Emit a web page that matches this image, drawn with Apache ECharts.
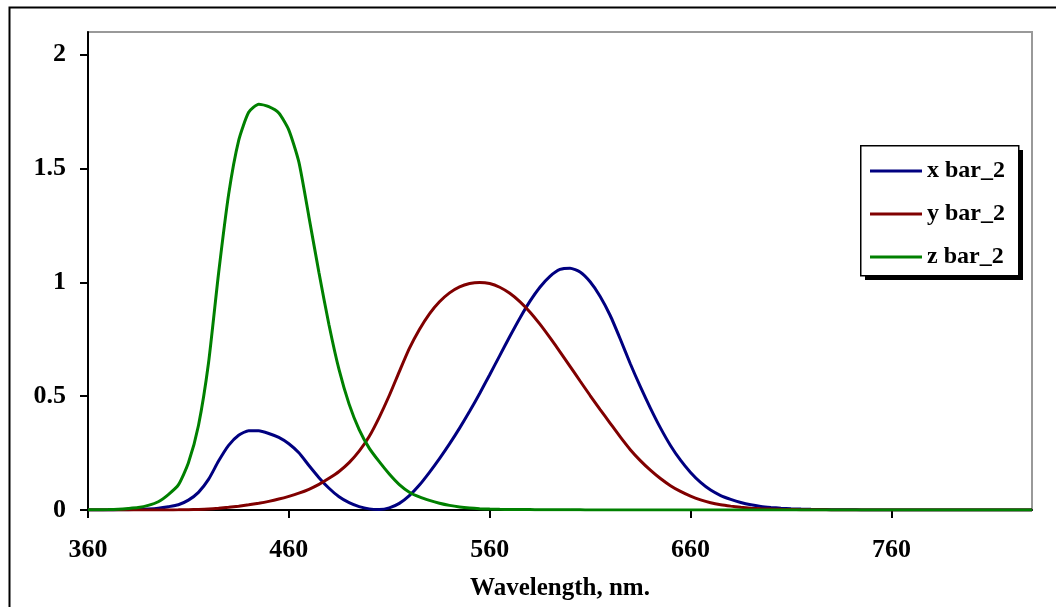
<!DOCTYPE html>
<html>
<head>
<meta charset="utf-8">
<script src="https://cdn.jsdelivr.net/npm/echarts@6/dist/echarts.min.js"></script>
<style>
html,body{margin:0;padding:0;background:#fff;}
#chart{width:1056px;height:607px;}
</style>
</head>
<body>
<div id="chart"></div>
<script>
// Wavelengths (nm), 5 nm steps 360..830
const wavelengths = [];
for (let w = 360; w <= 830; w += 5) wavelengths.push(w);

const xBar = [
0.0001,0.0002,0.0004,0.0007,0.0014,0.0022,0.0042,0.0077,0.0143,0.0232,
0.0435,0.0776,0.1344,0.2148,0.2839,0.3285,0.3483,0.3481,0.3362,0.3187,
0.2908,0.2511,0.1954,0.1421,0.0956,0.0580,0.0320,0.0147,0.0049,0.0024,
0.0093,0.0291,0.0633,0.1096,0.1655,0.2258,0.2904,0.3597,0.4335,0.5121,
0.5945,0.6784,0.7621,0.8425,0.9163,0.9786,1.0263,1.0567,1.0622,1.0456,
1.0026,0.9384,0.8545,0.7514,0.6424,0.5419,0.4479,0.3608,0.2835,0.2187,
0.1649,0.1212,0.0874,0.0636,0.0468,0.0329,0.0227,0.0158,0.0114,0.0081,
0.0058,0.0041,0.0029,0.0020,0.0014,0.0010,0.0007,0.0005,0.0003,0.0002,
0.0002,0.0001,0.0001,0.0001,0.0000,0.0000,0.0000,0.0000,0.0000,0.0000,
0.0000,0.0000,0.0000,0.0000,0.0000
];
const yBar = [
0.0000,0.0000,0.0000,0.0000,0.0000,0.0001,0.0001,0.0002,0.0004,0.0006,
0.0012,0.0022,0.0040,0.0073,0.0116,0.0168,0.0230,0.0298,0.0380,0.0480,
0.0600,0.0739,0.0910,0.1126,0.1390,0.1693,0.2080,0.2586,0.3230,0.4073,
0.5030,0.6082,0.7100,0.7932,0.8620,0.9149,0.9540,0.9803,0.9950,1.0000,
0.9950,0.9786,0.9520,0.9154,0.8700,0.8163,0.7570,0.6949,0.6310,0.5668,
0.5030,0.4412,0.3810,0.3210,0.2650,0.2170,0.1750,0.1382,0.1070,0.0816,
0.0610,0.0446,0.0320,0.0232,0.0170,0.0119,0.0082,0.0057,0.0041,0.0029,
0.0021,0.0015,0.0010,0.0007,0.0005,0.0004,0.0002,0.0002,0.0001,0.0001,
0.0001,0.0000,0.0000,0.0000,0.0000,0.0000,0.0000,0.0000,0.0000,0.0000,
0.0000,0.0000,0.0000,0.0000,0.0000
];
const zBar = [
0.0006,0.0011,0.0019,0.0035,0.0065,0.0106,0.0201,0.0362,0.0679,0.1102,
0.2074,0.3713,0.6456,1.0391,1.3856,1.6230,1.7471,1.7826,1.7721,1.7441,
1.6692,1.5281,1.2876,1.0419,0.8130,0.6162,0.4652,0.3533,0.2720,0.2123,
0.1582,0.1117,0.0783,0.0573,0.0422,0.0298,0.0203,0.0134,0.0088,0.0058,
0.0039,0.0028,0.0021,0.0018,0.0017,0.0014,0.0011,0.0010,0.0008,0.0006,
0.0003,0.0002,0.0002,0.0001,0.0001,0.0000,0.0000,0.0000,0.0000,0.0000,
0.0000,0.0000,0.0000,0.0000,0.0000,0.0000,0.0000,0.0000,0.0000,0.0000,
0.0000,0.0000,0.0000,0.0000,0.0000,0.0000,0.0000,0.0000,0.0000,0.0000,
0.0000,0.0000,0.0000,0.0000,0.0000,0.0000,0.0000,0.0000,0.0000,0.0000,
0.0000,0.0000,0.0000,0.0000,0.0000
];
const seriesNames = ['x bar_2', 'y bar_2', 'z bar_2'];
const xTicks = [360, 460, 560, 660, 760];
const yTicks = [0, 0.5, 1, 1.5, 2];
const xTitle = 'Wavelength, nm.';

const colors = ['#000080', '#800000', '#008000'];
const FONT = '"Liberation Serif", "Times New Roman", serif';

const pairs = arr => wavelengths.map((w, i) => [w, arr[i]]);
const seriesData = [xBar, yBar, zBar];

const chart = echarts.init(document.getElementById('chart'), null, {renderer: 'canvas'});
chart.setOption({
  animation: false,
  backgroundColor: '#fff',
  graphic: [
    {
      type: 'rect', left: 7, top: 5, z: 100, silent: true,
      shape: {width: 1070, height: 640},
      style: {fill: 'none', stroke: '#000', lineWidth: 2}
    },
    {
      type: 'rect', left: 865, top: 150, z: 20, silent: true,
      shape: {width: 158, height: 130},
      style: {fill: '#000'}
    },
    {
      type: 'rect', left: 860, top: 145, z: 21, silent: true,
      shape: {width: 158, height: 130},
      style: {fill: '#fff', stroke: '#000', lineWidth: 1.5}
    }
  ],
  grid: {
    left: 88, top: 32, right: 24, bottom: 97,
    outerBoundsMode: 'none', containLabel: false,
    show: true, borderColor: '#999', borderWidth: 2, backgroundColor: '#fff'
  },
  legend: {
    orient: 'vertical',
    left: 860, top: 145,
    padding: [12, 8, 4, 10],
    itemGap: 15,
    itemWidth: 52, itemHeight: 3,
    icon: 'rect',
    z: 30,
    textStyle: {fontFamily: FONT, fontWeight: 'bold', fontSize: 24, color: '#000', lineHeight: 28},
    data: seriesNames
  },
  xAxis: {
    type: 'value', min: 360, max: 830, interval: 100,
    name: xTitle, nameLocation: 'middle', nameGap: 66,
    nameTextStyle: {fontFamily: FONT, fontWeight: 'bold', fontSize: 25, color: '#000'},
    axisLine: {show: true, onZero: false, lineStyle: {color: '#000', width: 2}},
    axisTick: {show: true, length: 8, inside: false, customValues: xTicks, lineStyle: {color: '#000', width: 2}},
    axisLabel: {customValues: xTicks, margin: 27, fontFamily: FONT, fontWeight: 'bold', fontSize: 26, color: '#000'},
    splitLine: {show: false}
  },
  yAxis: {
    type: 'value', min: 0, max: 2.1, interval: 0.5,
    axisLine: {show: true, lineStyle: {color: '#000', width: 2}},
    axisTick: {show: true, length: 8, inside: false, customValues: yTicks, lineStyle: {color: '#000', width: 2}},
    axisLabel: {customValues: yTicks, margin: 22, fontFamily: FONT, fontWeight: 'bold', fontSize: 26, color: '#000'},
    splitLine: {show: false}
  },
  series: seriesNames.map((n, i) => ({
    name: n, type: 'line', symbol: 'none',
    data: pairs(seriesData[i]),
    smooth: 0.2,
    lineStyle: {color: colors[i], width: 3},
    itemStyle: {color: colors[i]},
    z: 2 + i
  }))
});
</script>
</body>
</html>
